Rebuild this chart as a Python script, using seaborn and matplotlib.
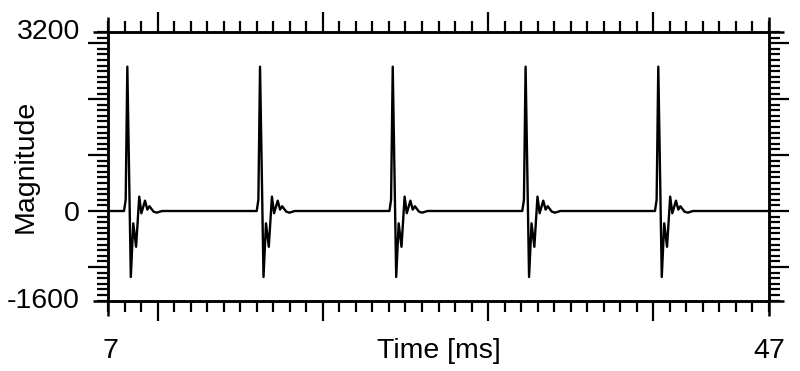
import numpy as np
import pandas as pd
import matplotlib
matplotlib.use("Agg")
import matplotlib.pyplot as plt
from matplotlib.ticker import MultipleLocator, FixedLocator, FixedFormatter
from matplotlib.lines import Line2D
import seaborn as sns

# ---- data ----
x_start, x_end = 7, 47
y_min, y_max = -1600, 3200
pulse_peaks = [8.17, 16.20, 24.23, 32.27, 40.30]          # ms
pulse_offsets = [-0.20, -0.10, 0.0, 0.21, 0.36, 0.53, 0.72, 0.85,
                 1.07, 1.21, 1.34, 1.58, 1.78, 2.10]       # ms relative to peak
pulse_values = [0, 200, 2580, -1180, -220, -640, 257, -40,
                185, 25, 85, -10, -30, 0]
y_labels = ["3200", "0", "-1600"]
x_labels = ["7", "47"]

t = [x_start]
v = [0]
for p in pulse_peaks:
    for o, val in zip(pulse_offsets, pulse_values):
        t.append(p + o)
        v.append(val)
t.append(x_end)
v.append(0)
df = pd.DataFrame({"Time [ms]": t, "Magnitude": v})

sns.set_style("ticks")
plt.rcParams["font.family"] = ["Liberation Sans", "DejaVu Sans"]
plt.rcParams.update({"text.color": "black", "axes.labelcolor": "black",
                     "xtick.color": "black", "ytick.color": "black",
                     "xtick.labelcolor": "black", "ytick.labelcolor": "black"})
FS = 20.5

W, H, DPI = 8.0, 3.71, 100
fig = plt.figure(figsize=(W, H), dpi=DPI)
L, R, T, B = 108 / 800, 769 / 800, 1 - 32 / 371, 1 - 300.5 / 371
ax = fig.add_axes([L, B, R - L, T - B])

sns.lineplot(data=df, x="Time [ms]", y="Magnitude", ax=ax, sort=False,
             estimator=None, color="black", linewidth=1.7)

ax.set_xlim(x_start, x_end)
ax.set_ylim(y_min, y_max)

for s in ax.spines.values():
    s.set_visible(True)
    s.set_linewidth(1.8)
    s.set_color("black")

ax.xaxis.set_major_locator(FixedLocator([10, 20, 30, 40]))
ax.xaxis.set_minor_locator(MultipleLocator(1))
ax.yaxis.set_major_locator(FixedLocator([-1000, 0, 1000, 2000, 3000]))
ax.yaxis.set_major_formatter(FixedFormatter(["", "0", "", "", ""]))
ax.yaxis.set_minor_locator(MultipleLocator(100))
ax.xaxis.set_major_formatter(FixedFormatter(["", "", "", ""]))

ax.tick_params(which="both", direction="out", top=True, right=True,
               bottom=True, left=True, color="black", width=1.6,
               labelcolor="black")
ax.tick_params(which="major", length=14.5, labelsize=FS, pad=5.5)
ax.tick_params(which="minor", length=8)

# spine extensions beyond the box (axis lines crossing)
ax_w_px = (R - L) * W * DPI
ax_h_px = (T - B) * H * DPI
ex = 15 / ax_w_px
ey = 15 / ax_h_px
for (xs, ys) in [([-ex, 1 + ex], [1, 1]), ([-ex, 1 + ex], [0, 0]),
                 ([0, 0], [-ey, 1 + ey]), ([1, 1], [-ey, 1 + ey])]:
    ax.add_line(Line2D(xs, ys, transform=ax.transAxes, color="black",
                       linewidth=1.8, clip_on=False, solid_capstyle="butt"))

# end labels
bl = matplotlib.transforms.blended_transform_factory(ax.transAxes, ax.transData)
ax.annotate(y_labels[0], xy=(0, y_max), xycoords=bl, xytext=(-20.3, 0),
            textcoords="offset points", ha="right", va="center", fontsize=FS,
            color="black")
ax.annotate(y_labels[2], xy=(0, y_min), xycoords=bl, xytext=(-20.3, 0),
            textcoords="offset points", ha="right", va="center", fontsize=FS,
            color="black")
ax.annotate(x_labels[0], xy=(0, 0), xycoords="axes fraction", xytext=(1.5, -41.5),
            textcoords="offset points", ha="center", va="baseline", fontsize=FS,
            color="black")
ax.annotate(x_labels[1], xy=(1, 0), xycoords="axes fraction", xytext=(0, -41.5),
            textcoords="offset points", ha="center", va="baseline", fontsize=FS,
            color="black")

ax.set_xlabel("Time [ms]", fontsize=FS, color="black")
ax.xaxis.set_label_coords(0.5, -57.5 / ax_h_px)
ax.xaxis.label.set_va("baseline")
ax.set_ylabel("Magnitude", fontsize=FS, color="black")
ax.yaxis.set_label_coords((39 - 108) / ax_w_px, 0.5)

fig.savefig("out.png", dpi=DPI, facecolor="white")
